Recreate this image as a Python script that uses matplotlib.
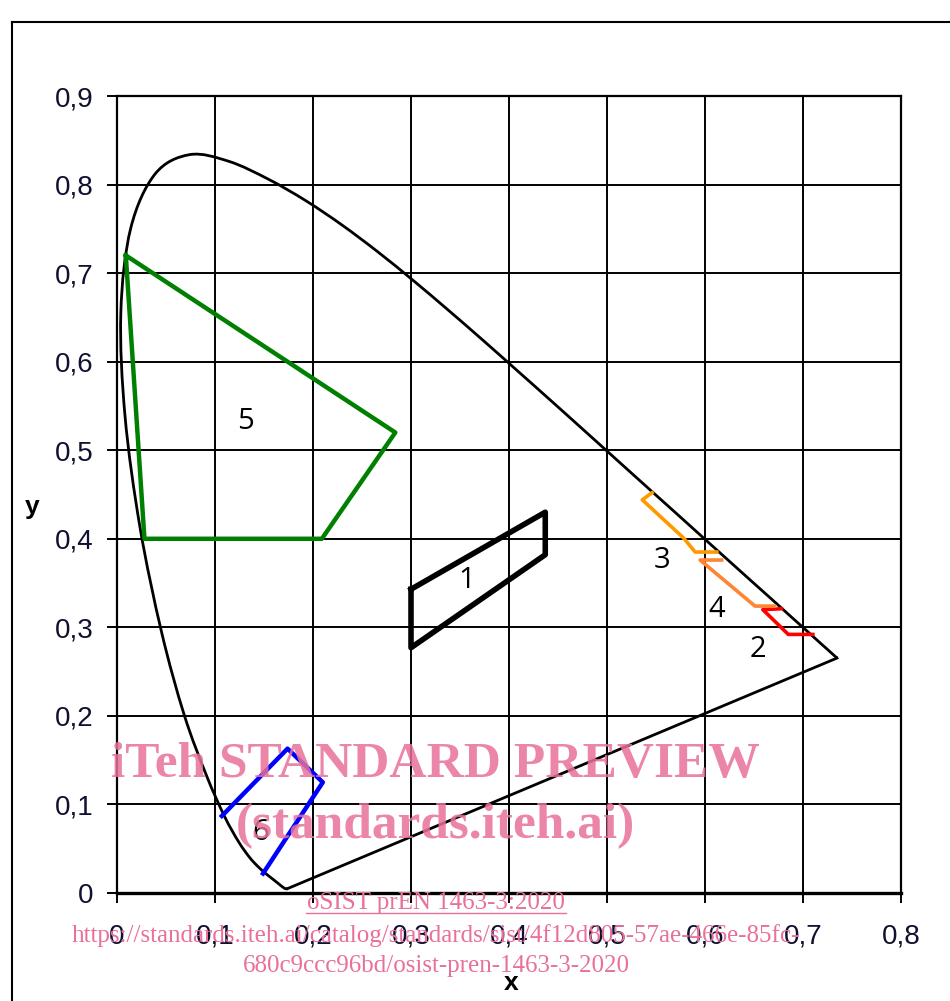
import numpy as np
import matplotlib.pyplot as plt
from matplotlib.lines import Line2D
from matplotlib.path import Path
from matplotlib.patches import PathPatch
from matplotlib.ticker import FuncFormatter

# CIE 1931 spectral locus, 380..700 nm step 5 nm
locus_x = [0.1741, 0.1740, 0.1738, 0.1736, 0.1733, 0.1730, 0.1726, 0.1721,
           0.1714, 0.1703, 0.1689, 0.1669, 0.1644, 0.1611, 0.1566, 0.1510,
           0.1440, 0.1355, 0.1241, 0.1096, 0.0913, 0.0687, 0.0454, 0.0235,
           0.0082, 0.0039, 0.0139, 0.0389, 0.0743, 0.1142, 0.1547, 0.1929,
           0.2296, 0.2658, 0.3016, 0.3373, 0.3731, 0.4087, 0.4441, 0.4788,
           0.5125, 0.5448, 0.5752, 0.6029, 0.6270, 0.6482, 0.6658, 0.6801,
           0.6915, 0.7006, 0.7079, 0.7140, 0.7190, 0.7230, 0.7260, 0.7283,
           0.7300, 0.7311, 0.7320, 0.7327, 0.7334, 0.7340, 0.7344, 0.7346,
           0.7347]
locus_y = [0.0050, 0.0050, 0.0049, 0.0049, 0.0048, 0.0048, 0.0048, 0.0048,
           0.0051, 0.0058, 0.0069, 0.0086, 0.0109, 0.0138, 0.0177, 0.0227,
           0.0297, 0.0399, 0.0578, 0.0868, 0.1327, 0.2007, 0.2950, 0.4127,
           0.5384, 0.6548, 0.7502, 0.8120, 0.8338, 0.8262, 0.8059, 0.7816,
           0.7543, 0.7243, 0.6923, 0.6589, 0.6245, 0.5896, 0.5547, 0.5202,
           0.4866, 0.4544, 0.4242, 0.3965, 0.3725, 0.3514, 0.3340, 0.3197,
           0.3083, 0.2993, 0.2920, 0.2859, 0.2809, 0.2770, 0.2740, 0.2717,
           0.2700, 0.2689, 0.2680, 0.2673, 0.2666, 0.2660, 0.2656, 0.2654,
           0.2653]

# colour areas
area1_x = [0.300, 0.437, 0.437, 0.300, 0.300]
area1_y = [0.343, 0.430, 0.382, 0.277, 0.343]
area2_x = [0.678, 0.659, 0.685, 0.710]
area2_y = [0.321, 0.320, 0.292, 0.292]
area3_x = [0.546, 0.536, 0.578, 0.590, 0.612]
area3_y = [0.452, 0.444, 0.401, 0.385, 0.385]
area4_x = [0.617, 0.595, 0.651, 0.671]
area4_y = [0.376, 0.376, 0.324, 0.324]
area5_x = [0.009, 0.284, 0.209, 0.028]
area5_y = [0.720, 0.520, 0.400, 0.400]
area6_x = [0.107, 0.174, 0.210, 0.149]
area6_y = [0.087, 0.163, 0.125, 0.022]

labels = ['1', '2', '3', '4', '5', '6']
label_x = [0.357, 0.654, 0.556, 0.612, 0.131, 0.147]
label_y = [0.353, 0.275, 0.376, 0.320, 0.532, 0.068]


def smooth_path(xs, ys):
    # excel-like smoothed line: catmull-rom turned into cubic bezier pieces
    p = np.column_stack([xs, ys])
    verts = [p[0]]
    codes = [Path.MOVETO]
    n = len(p)
    for i in range(n - 1):
        p0 = p[max(i - 1, 0)]
        p1 = p[i]
        p2 = p[i + 1]
        p3 = p[min(i + 2, n - 1)]
        verts += [p1 + (p2 - p0) / 6, p2 - (p3 - p1) / 6, p2]
        codes += [Path.CURVE4] * 3
    return Path(verts, codes)


fig = plt.figure(figsize=(9.5, 10.01), dpi=100)
ax = fig.add_axes([117/950, 1-893/1001, 784/950, 797/1001])

ax.set_xlim(0, 0.8)
ax.set_ylim(0, 0.9)
ax.set_xticks(np.arange(0, 0.81, 0.1))
ax.set_yticks(np.arange(0, 0.91, 0.1))
fmt = FuncFormatter(lambda v, p: ('%g' % round(v, 1)).replace('.', ','))
ax.xaxis.set_major_formatter(fmt)
ax.yaxis.set_major_formatter(fmt)
ax.grid(True, color='black', lw=1.4)
ax.set_axisbelow(True)
for s in ax.spines.values():
    s.set_linewidth(1.6)
ax.spines['bottom'].set_linewidth(2.4)
ax.tick_params(axis='x', length=7, width=1.4, pad=15, labelsize=20)
ax.tick_params(axis='y', length=7, width=1.4, pad=10, labelsize=20)
for t in ax.get_xticklabels() + ax.get_yticklabels():
    t.set_fontfamily('Liberation Sans')
    t.set_color('#101030')

# spectral locus + purple line
ax.add_patch(PathPatch(smooth_path(locus_x, locus_y), fill=False, edgecolor='black',
                       lw=2, zorder=3))
ax.plot([locus_x[-1], locus_x[0]], [locus_y[-1], locus_y[0]], color='black', lw=2, zorder=3)

ax.plot(area1_x, area1_y, color='black', lw=4, zorder=4)
ax.plot(area2_x, area2_y, color='#FF0000', lw=2.6, zorder=4)
ax.plot(area3_x, area3_y, color='#FF9900', lw=2.6, zorder=4)
ax.plot(area4_x, area4_y, color='#FF8533', lw=2.6, zorder=4)
ax.plot(area5_x + [area5_x[0]], area5_y + [area5_y[0]], color='#008000', lw=3.2, zorder=4)
ax.plot(area6_x, area6_y, color='#0000FF', lw=3.2, zorder=4)

for lab, lx, ly in zip(labels, label_x, label_y):
    ax.text(lx, ly, lab, fontsize=21, family='Open Sans', ha='center', va='center', zorder=5)

fig.text(511/950, 1-983/1001, 'x', fontsize=19, fontweight='bold', family='Liberation Sans',
         ha='center', va='center')
fig.text(32/950, 1-507/1001, 'y', fontsize=19, fontweight='bold', family='Liberation Sans',
         ha='center', va='center')

# frame around the figure
fig.add_artist(Line2D([12/950, 12/950], [0, 1-22/1001], color='black', lw=1.5,
                      transform=fig.transFigure))
fig.add_artist(Line2D([12/950, 1], [1-22/1001, 1-22/1001], color='black', lw=1.5,
                      transform=fig.transFigure))

# watermark
pink = '#E8709A'
fig.text(435/950, 1-765/1001, 'iTeh STANDARD PREVIEW', fontsize=37, fontweight='bold',
         family='Liberation Serif', color=pink, alpha=0.85, ha='center', va='center', zorder=10)
fig.text(435/950, 1-826/1001, '(standards.iteh.ai)', fontsize=37, fontweight='bold',
         family='Liberation Serif', color=pink, alpha=0.85, ha='center', va='center', zorder=10)
fig.text(436/950, 1-903/1001, 'oSIST prEN 1463-3:2020', fontsize=18, family='Liberation Serif',
         color=pink, ha='center', va='center', zorder=10)
fig.add_artist(Line2D([306/950, 566/950], [1-913/1001, 1-913/1001], color=pink, lw=1,
                      transform=fig.transFigure))
fig.text(436/950, 1-936/1001,
         'https://standards.iteh.ai/catalog/standards/sist/4f12d805-57ae-466e-85fc-',
         fontsize=18, family='Liberation Serif', color=pink, ha='center', va='center', zorder=10)
fig.text(436/950, 1-966/1001, '680c9ccc96bd/osist-pren-1463-3-2020', fontsize=18,
         family='Liberation Serif', color=pink, ha='center', va='center', zorder=10)

fig.savefig('out.png', dpi=100)
